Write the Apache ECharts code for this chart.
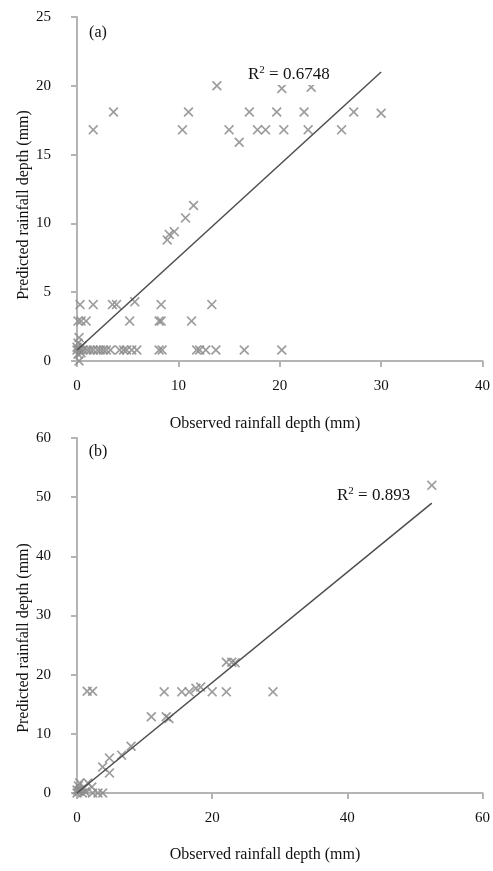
<!DOCTYPE html>
<html>
<head>
<meta charset="utf-8">
<script src="https://cdn.jsdelivr.net/npm/echarts@6/dist/echarts.min.js"></script>
<style>
  html, body { margin: 0; padding: 0; background: #fff; }
  #chart { width: 493px; height: 871px; }
</style>
</head>
<body>
<div id="chart"></div>
<script>
// (a) observed vs predicted rainfall depth (mm)
var points_a = [
  [13.8, 20.0], [20.2, 19.8], [23.1, 19.9],
  [3.6, 18.1], [11.0, 18.1], [17.0, 18.1], [19.7, 18.1], [22.4, 18.1], [27.3, 18.1], [30.0, 18.0],
  [1.6, 16.8], [10.4, 16.8], [15.0, 16.8], [17.8, 16.8], [18.6, 16.8], [20.4, 16.8], [22.8, 16.8], [26.1, 16.8],
  [16.0, 15.9],
  [8.9, 8.8], [9.1, 9.2], [9.6, 9.4], [10.7, 10.4], [11.5, 11.3],
  [0.3, 4.1], [1.6, 4.1], [3.5, 4.1], [3.9, 4.1], [5.7, 4.3], [8.3, 4.1], [13.3, 4.1],
  [0.1, 2.9], [0.4, 2.9], [0.9, 2.9], [5.2, 2.9], [8.1, 2.9], [8.3, 2.9], [11.3, 2.9],
  [0.0, 0.8], [0.3, 0.8], [0.6, 0.8], [1.0, 0.8], [1.3, 0.8], [1.6, 0.8], [2.0, 0.8], [2.3, 0.8],
  [2.6, 0.8], [2.9, 0.8], [3.3, 0.8], [4.2, 0.8], [4.6, 0.8], [4.9, 0.8], [5.4, 0.8], [5.9, 0.8],
  [8.1, 0.8], [8.4, 0.8], [11.8, 0.8], [12.1, 0.8], [12.7, 0.8], [13.7, 0.8], [16.5, 0.8], [20.2, 0.8],
  [0.1, 1.3], [0.2, 1.7], [0.1, 0.5], [0.4, 0.6], [0.2, 0.0], [0.0, 1.0], [0.5, 1.1]
];
var fit_a = [[0, 0.8], [30, 21.0]];

// (b)
var points_b = [
  [52.5, 52.0],
  [1.5, 17.2], [2.3, 17.2], [12.9, 17.1], [15.5, 17.1], [16.6, 17.1], [17.6, 17.7], [18.3, 17.9],
  [20.0, 17.1], [22.1, 17.1], [29.0, 17.1],
  [22.1, 22.1], [22.9, 22.1], [23.4, 22.0],
  [11.0, 12.9], [13.2, 12.9], [13.6, 12.6],
  [8.0, 7.9], [6.6, 6.4], [4.8, 5.9], [3.8, 4.4], [4.8, 3.4],
  [0.4, 1.7], [1.6, 1.7], [2.2, 1.0], [2.3, 0.0], [3.1, 0.0], [3.8, 0.0],
  [0.0, 0.0], [0.3, 0.3], [0.5, 0.6], [1.0, 0.8], [0.2, 1.2], [1.2, 0.2], [0.8, 0.0], [0.0, 0.5]
];
var fit_b = [[0, 0], [52.5, 49.0]];

var r2_a = '0.6748';
var r2_b = '0.893';

var serif = "'Liberation Serif', 'Times New Roman', serif";
var axisGray = '#b4b4b4';
var crossSymbol = 'path://M0,1.2L1.2,0L5,3.8L8.8,0L10,1.2L6.2,5L10,8.8L8.8,10L5,6.2L1.2,10L0,8.8L3.8,5Z';

function valueAxis(idx, min, max, step, isY) {
  return {
    type: 'value',
    gridIndex: idx,
    min: min,
    max: max,
    interval: step,
    splitLine: { show: false },
    axisLine: { show: true, lineStyle: { color: axisGray, width: 2 } },
    axisTick: { show: true, length: 6, lineStyle: { color: axisGray, width: 2 } },
    axisLabel: {
      color: '#111',
      fontFamily: serif,
      fontSize: 15,
      margin: isY ? 26 : 18
    }
  };
}

function scatter(idx, data) {
  return {
    type: 'scatter',
    xAxisIndex: idx,
    yAxisIndex: idx,
    symbol: crossSymbol,
    symbolSize: 10,
    itemStyle: { color: '#8c8c8c', opacity: 0.85 },
    data: data,
    silent: true
  };
}

function fitLine(idx, data) {
  return {
    type: 'line',
    xAxisIndex: idx,
    yAxisIndex: idx,
    showSymbol: false,
    lineStyle: { color: '#4d4d4d', width: 1.5 },
    data: data,
    silent: true,
    z: 3
  };
}

function r2Text(x, y, val) {
  return {
    type: 'text',
    left: x,
    top: y,
    z: 100,
    style: {
      text: '{r|R}{s|2}{r| = ' + val + '}',
      backgroundColor: '#fff',
      rich: {
        r: { fontFamily: serif, fontSize: 17, fill: '#111' },
        s: { fontFamily: serif, fontSize: 11, fill: '#111', padding: [0, 0, 9, 0] }
      }
    }
  };
}

function plainText(x, y, str, rot) {
  return {
    type: 'text',
    x: x,
    y: y,
    rotation: rot || 0,
    z: 100,
    style: {
      text: str,
      fontFamily: serif,
      fontSize: 16,
      fill: '#111',
      align: 'center',
      verticalAlign: 'middle'
    }
  };
}

var myChart = echarts.init(document.getElementById('chart'));
var option = {
  backgroundColor: '#fff',
  animation: false,
  grid: [
    { left: 77, top: 17, width: 408, height: 344 },
    { left: 77, top: 438, width: 409, height: 355 }
  ],
  xAxis: [
    valueAxis(0, 0, 40, 10, false),
    valueAxis(1, 0, 60, 20, false)
  ],
  yAxis: [
    valueAxis(0, 0, 25, 5, true),
    valueAxis(1, 0, 60, 10, true)
  ],
  series: [
    scatter(0, points_a),
    fitLine(0, fit_a),
    scatter(1, points_b),
    fitLine(1, fit_b)
  ],
  graphic: [
    plainText(98, 33, '(a)'),
    plainText(98, 452, '(b)'),
    plainText(265, 424, 'Observed rainfall depth (mm)'),
    plainText(265, 855, 'Observed rainfall depth (mm)'),
    plainText(24, 205, 'Predicted rainfall depth (mm)', Math.PI / 2),
    plainText(24, 638, 'Predicted rainfall depth (mm)', Math.PI / 2),
    r2Text(248, 65, r2_a),
    r2Text(337, 486, r2_b)
  ]
};
myChart.setOption(option);
</script>
</body>
</html>
